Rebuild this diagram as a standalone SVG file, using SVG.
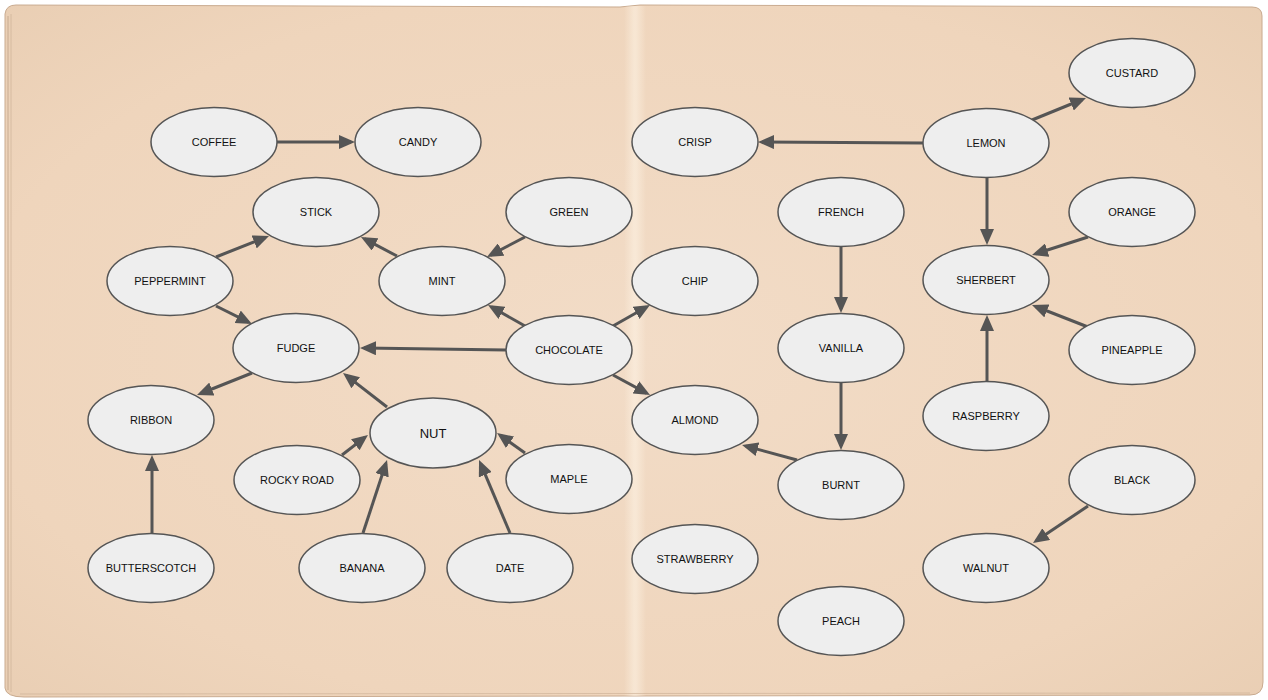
<svg xmlns="http://www.w3.org/2000/svg" width="1268" height="700" viewBox="0 0 1268 700">
<defs>
<radialGradient id="paper" cx="0.5" cy="0.5" r="0.75">
<stop offset="0" stop-color="#f2dcc7"/>
<stop offset="0.7" stop-color="#efd5bc"/>
<stop offset="1" stop-color="#e8cdb2"/>
</radialGradient>
<linearGradient id="fold" x1="0" y1="0" x2="1" y2="0">
<stop offset="0" stop-color="#fff6e8" stop-opacity="0"/>
<stop offset="0.45" stop-color="#fff6e8" stop-opacity="0.5"/>
<stop offset="0.55" stop-color="#fff6e8" stop-opacity="0.5"/>
<stop offset="1" stop-color="#fff6e8" stop-opacity="0"/>
</linearGradient>
<marker id="arr" markerUnits="userSpaceOnUse" markerWidth="16" markerHeight="14" refX="12" refY="7" orient="auto">
<path d="M0,0 L16,7 L0,14 Z" fill="#555555"/>
</marker>
</defs>
<style>
.n ellipse{fill:#eeeeee;stroke:#555555;stroke-width:1.5}
.n text{font-family:"Liberation Sans",Arial,sans-serif;font-size:11px;fill:#111111;text-anchor:middle;dominant-baseline:central}
#edges line{stroke:#555555;stroke-width:3;marker-end:url(#arr)}
</style>
<rect width="1268" height="700" fill="#ffffff"/>
<g id="background">
<path d="M5,14 Q6,5 16,5 L620,7 L640,5 L1252,7 Q1262,7 1262,16 L1263,682 Q1263,695 1250,695 L24,697 Q6,697 5,688 Z" fill="url(#paper)" stroke="#c9ab90" stroke-width="1"/>
<rect x="624" y="6" width="22" height="690" fill="url(#fold)"/>
<path d="M8,16 L8,690" stroke="#b99e84" stroke-width="1" fill="none" opacity="0.7"/>
<path d="M11,14 L11,692" stroke="#c8ad93" stroke-width="1" fill="none" opacity="0.6"/>
<path d="M20,694 L1250,693" stroke="#caad92" stroke-width="1" fill="none" opacity="0.6"/>
</g>
<g id="edges">
<line x1="277" y1="142" x2="351" y2="142"/>
<line x1="923" y1="143" x2="762" y2="142"/>
<line x1="1032" y1="120" x2="1082.3" y2="99.5"/>
<line x1="987" y1="178" x2="987" y2="241"/>
<line x1="216" y1="257" x2="265.3" y2="237.5"/>
<line x1="397" y1="256" x2="364.5" y2="238.9"/>
<line x1="525" y1="237" x2="490.5" y2="255.1"/>
<line x1="525" y1="326" x2="491.5" y2="307"/>
<line x1="613" y1="326" x2="646.5" y2="307"/>
<line x1="506" y1="350" x2="364" y2="348.1"/>
<line x1="613" y1="375" x2="646.5" y2="393.1"/>
<line x1="216" y1="306" x2="248.4" y2="322.2"/>
<line x1="252" y1="373" x2="200.7" y2="393.5"/>
<line x1="387" y1="407" x2="346.2" y2="375.4"/>
<line x1="841" y1="247" x2="841" y2="309"/>
<line x1="841" y1="383" x2="841" y2="446"/>
<line x1="797" y1="460" x2="745.9" y2="446.1"/>
<line x1="1088" y1="237" x2="1035.8" y2="253.8"/>
<line x1="1088" y1="327" x2="1035.7" y2="306.5"/>
<line x1="987" y1="382" x2="987" y2="319"/>
<line x1="342" y1="455" x2="364.8" y2="437.4"/>
<line x1="363" y1="533" x2="385.8" y2="463.8"/>
<line x1="510" y1="533" x2="480.6" y2="463.7"/>
<line x1="525" y1="453" x2="500.3" y2="435.3"/>
<line x1="152" y1="533" x2="152" y2="459"/>
<line x1="1088" y1="506" x2="1036.3" y2="540.8"/>
</g>
<g id="coffee" class="n"><ellipse cx="214" cy="142" rx="63" ry="34.5"/><text x="214" y="142">COFFEE</text></g>
<g id="candy" class="n"><ellipse cx="418" cy="142" rx="63" ry="34.5"/><text x="418" y="142">CANDY</text></g>
<g id="crisp" class="n"><ellipse cx="695" cy="142" rx="63" ry="34.5"/><text x="695" y="142">CRISP</text></g>
<g id="lemon" class="n"><ellipse cx="986" cy="143" rx="63" ry="34.5"/><text x="986" y="143">LEMON</text></g>
<g id="custard" class="n"><ellipse cx="1132" cy="73" rx="63" ry="34.5"/><text x="1132" y="73">CUSTARD</text></g>
<g id="stick" class="n"><ellipse cx="316" cy="212" rx="63" ry="34.5"/><text x="316" y="212">STICK</text></g>
<g id="green" class="n"><ellipse cx="569" cy="212" rx="63" ry="34.5"/><text x="569" y="212">GREEN</text></g>
<g id="french" class="n"><ellipse cx="841" cy="212" rx="63" ry="34.5"/><text x="841" y="212">FRENCH</text></g>
<g id="orange" class="n"><ellipse cx="1132" cy="212" rx="63" ry="34.5"/><text x="1132" y="212">ORANGE</text></g>
<g id="peppermint" class="n"><ellipse cx="170" cy="281" rx="63" ry="34.5"/><text x="170" y="281">PEPPERMINT</text></g>
<g id="mint" class="n"><ellipse cx="442" cy="281" rx="63" ry="34.5"/><text x="442" y="281">MINT</text></g>
<g id="chip" class="n"><ellipse cx="695" cy="281" rx="63" ry="34.5"/><text x="695" y="281">CHIP</text></g>
<g id="sherbert" class="n"><ellipse cx="986" cy="280" rx="63" ry="34.5"/><text x="986" y="280">SHERBERT</text></g>
<g id="fudge" class="n"><ellipse cx="296" cy="348" rx="63" ry="34.5"/><text x="296" y="348">FUDGE</text></g>
<g id="chocolate" class="n"><ellipse cx="569" cy="350" rx="63" ry="34.5"/><text x="569" y="350">CHOCOLATE</text></g>
<g id="vanilla" class="n"><ellipse cx="841" cy="348" rx="63" ry="34.5"/><text x="841" y="348">VANILLA</text></g>
<g id="pineapple" class="n"><ellipse cx="1132" cy="350" rx="63" ry="34.5"/><text x="1132" y="350">PINEAPPLE</text></g>
<g id="ribbon" class="n"><ellipse cx="151" cy="420" rx="63" ry="34.5"/><text x="151" y="420">RIBBON</text></g>
<g id="nut" class="n"><ellipse cx="433" cy="433" rx="63" ry="35"/><text x="433" y="433" style="font-size:13px">NUT</text></g>
<g id="almond" class="n"><ellipse cx="695" cy="420" rx="63" ry="34.5"/><text x="695" y="420">ALMOND</text></g>
<g id="raspberry" class="n"><ellipse cx="986" cy="416" rx="63" ry="34.5"/><text x="986" y="416">RASPBERRY</text></g>
<g id="rockyroad" class="n"><ellipse cx="297" cy="480" rx="63" ry="34.5"/><text x="297" y="480">ROCKY ROAD</text></g>
<g id="maple" class="n"><ellipse cx="569" cy="479" rx="63" ry="34.5"/><text x="569" y="479">MAPLE</text></g>
<g id="burnt" class="n"><ellipse cx="841" cy="485" rx="63" ry="34.5"/><text x="841" y="485">BURNT</text></g>
<g id="black" class="n"><ellipse cx="1132" cy="480" rx="63" ry="34.5"/><text x="1132" y="480">BLACK</text></g>
<g id="butterscotch" class="n"><ellipse cx="151" cy="568" rx="63" ry="34.5"/><text x="151" y="568">BUTTERSCOTCH</text></g>
<g id="banana" class="n"><ellipse cx="362" cy="568" rx="63" ry="34.5"/><text x="362" y="568">BANANA</text></g>
<g id="date" class="n"><ellipse cx="510" cy="568" rx="63" ry="34.5"/><text x="510" y="568">DATE</text></g>
<g id="strawberry" class="n"><ellipse cx="695" cy="559" rx="63" ry="34.5"/><text x="695" y="559">STRAWBERRY</text></g>
<g id="walnut" class="n"><ellipse cx="986" cy="568" rx="63" ry="34.5"/><text x="986" y="568">WALNUT</text></g>
<g id="peach" class="n"><ellipse cx="841" cy="621" rx="63" ry="34.5"/><text x="841" y="621">PEACH</text></g>
</svg>
